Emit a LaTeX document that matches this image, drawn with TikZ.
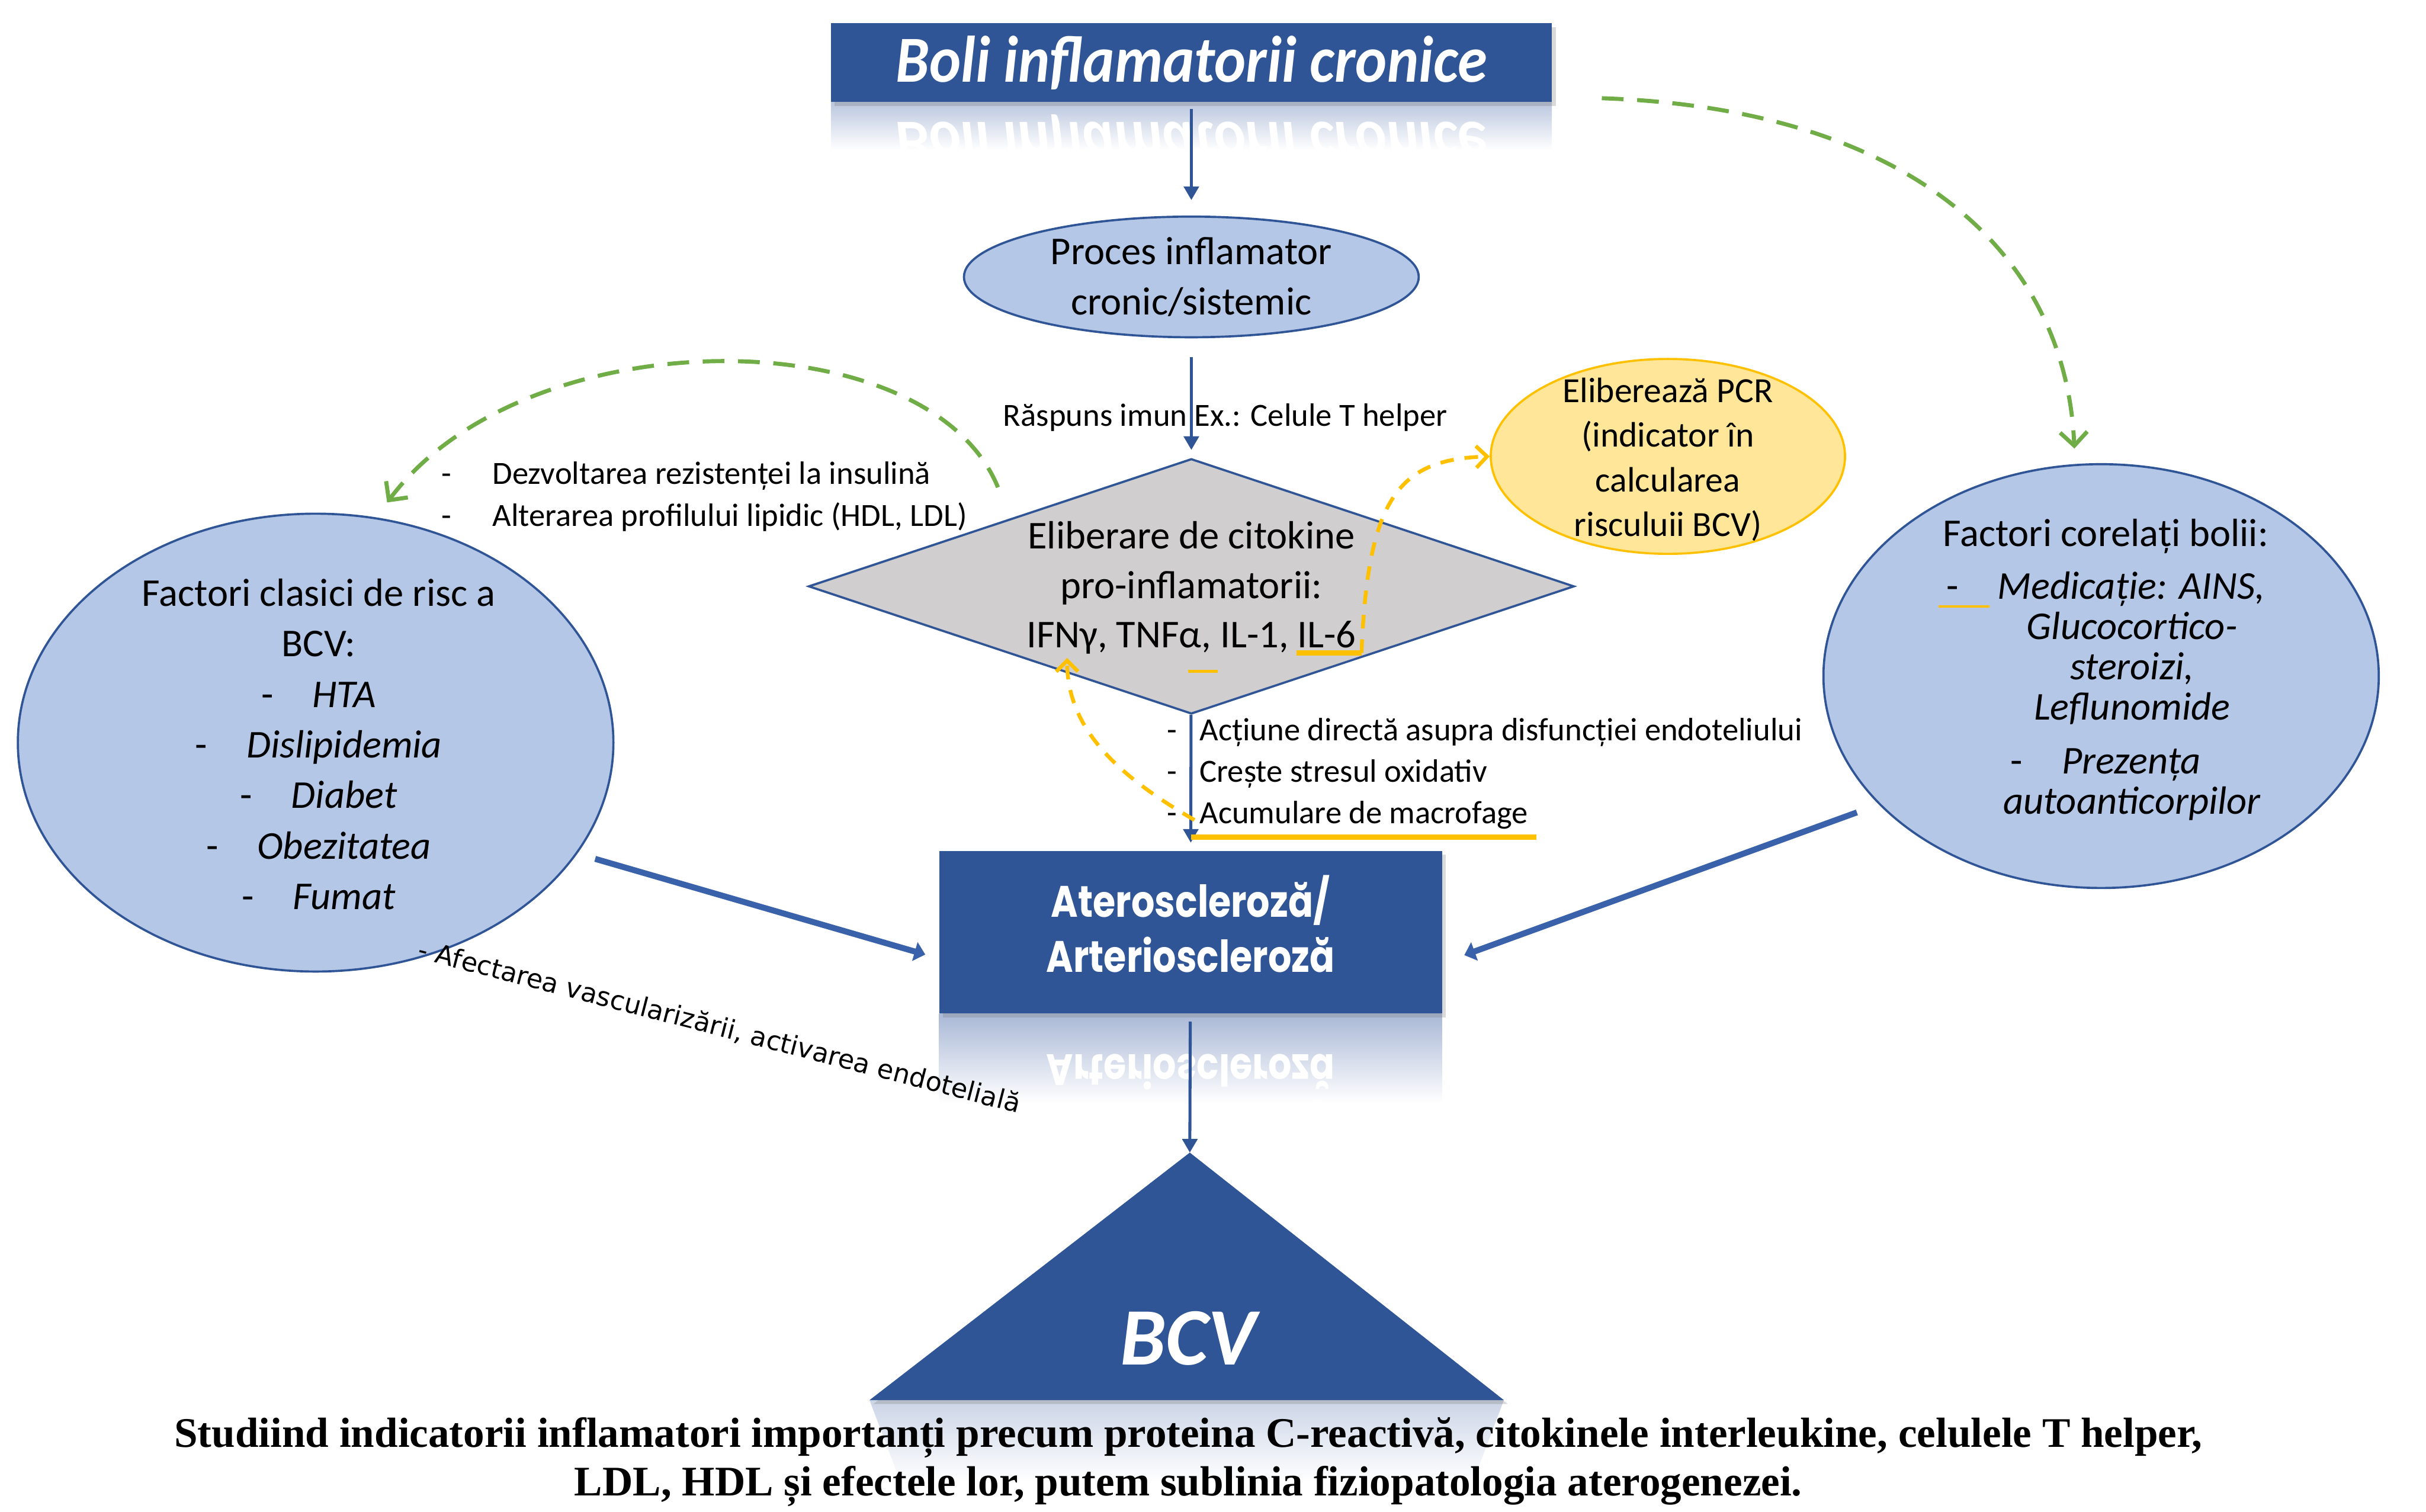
\documentclass[tikz,border=0pt]{standalone}
\usepackage{fontspec}
\setmainfont{Carlito}
\newfontfamily\popfont{Poppins}
\newfontfamily\capfont{Liberation Serif}
\newfontfamily\djfont{DejaVu Sans}
\usetikzlibrary{shapes.geometric,arrows.meta,shadows}

\definecolor{boxblue}{HTML}{2F5597}
\definecolor{softblue}{HTML}{B4C7E7}
\definecolor{rimblue}{HTML}{2F5597}
\definecolor{diagray}{HTML}{D0CECE}
\definecolor{pcrfill}{HTML}{FFE699}
\definecolor{pcrgold}{HTML}{FFC000}
\definecolor{leafgreen}{HTML}{70AD47}
\definecolor{mirrorblue}{HTML}{A9B8D6}
\definecolor{feedblue}{HTML}{3A62AA}

\tikzset{
  darkbox/.style={fill=boxblue, text=white, inner sep=0pt,
    drop shadow={opacity=0.3, shadow xshift=0.5mm, shadow yshift=-0.5mm}},
  blob/.style={ellipse, draw=rimblue, fill=softblue, line width=0.8pt, inner sep=0pt},
  flow/.style={draw=boxblue, line width=1.1pt, -{Triangle[length=5pt,width=5.5pt]}},
  feed/.style={draw=feedblue, line width=2.2pt, -{Triangle[length=4pt,width=7pt]}},
  greenloop/.style={draw=leafgreen, line width=1.5pt, dash pattern=on 8pt off 5pt,
    -{Straight Barb[length=5pt,width=10pt]}},
  goldloop/.style={draw=pcrgold, line width=1.4pt, dash pattern=on 5pt off 4pt,
    -{Straight Barb[length=4pt,width=8pt]}},
  bigtxt/.style={font=\fontsize{14.5}{18.6}\selectfont, align=center, inner sep=0pt},
  smalltxt/.style={font=\fontsize{11.9}{15.3}\selectfont, align=left, inner sep=0pt},
}

\begin{document}
\begin{tikzpicture}[x=0.02cm, y=-0.02cm]
\useasboundingbox (0,0) rectangle (1568,977);

% reflections under the dark boxes
\begin{scope}
  \clip (537,66) rectangle (1003,97);
  \shade[top color=mirrorblue!80, bottom color=white] (537,66) rectangle (1003,97);
  \node[text=white, font=\fontsize{22}{26}\selectfont\bfseries\itshape] (titlemirror) at (770,91.5)
    {\scalebox{1}[-1.1]{Boli inflamatorii cronice}};
\end{scope}
\begin{scope}
  \clip (607,655) rectangle (932,713);
  \shade[top color=mirrorblue, bottom color=white] (607,655) rectangle (932,713);
  \node[text=white, align=center, font=\popfont\bfseries\fontsize{13.5}{17}\selectfont] (ateromirror) at (769.5,707.5)
    {\scalebox{1}[-1.2]{\begin{tabular}{c}Ateroscleroză/\\Arterioscleroză\end{tabular}}};
\end{scope}
\shade[top color=mirrorblue!60, bottom color=white] (562,905) -- (972,905) -- (952,958) -- (582,958) -- cycle;

% main boxes
\node[darkbox, minimum width=9.32cm, minimum height=1.02cm,
  font=\fontsize{22}{26}\selectfont\bfseries\itshape] (title) at (770,40.5)
  {\scalebox{1}[1.1]{Boli inflamatorii cronice}};
\node[blob, minimum width=5.88cm, minimum height=1.56cm] (proces) at (770,179) {};
\node[bigtxt] (procestxt) at (770,179) {Proces inflamator\\cronic/sistemic};

\node[diamond, draw=rimblue, fill=diagray, line width=0.8pt, inner sep=0pt,
  minimum width=9.9cm, minimum height=3.3cm] (cyto) at (770,379) {};
\node[bigtxt, font=\fontsize{14.5}{18.2}\selectfont] (cytotxt) at (770,380)
  {Eliberare de citokine\\pro-inflamatorii:\\IFNγ, TNFα, IL-1, IL-6};

\node[ellipse, draw=pcrgold, fill=pcrfill, line width=0.8pt, inner sep=0pt,
  minimum width=4.58cm, minimum height=2.52cm] (pcr) at (1078,295) {};
\node[bigtxt, font=\fontsize{13}{16.4}\selectfont] (pcrtxt) at (1078,297)
  {Eliberează PCR\\(indicator în\\calcularea\\risculuii BCV)};

\node[blob, minimum width=7.7cm, minimum height=5.92cm] (lfac) at (204,480) {};
\node[bigtxt] (lfactxt) at (206,481)
  {Factori clasici de risc a\\BCV:\\
   \makebox[0.66cm][l]{-}\textit{HTA}\\
   \makebox[0.66cm][l]{-}\textit{Dislipidemia}\\
   \makebox[0.66cm][l]{-}\textit{Diabet}\\
   \makebox[0.66cm][l]{-}\textit{Obezitatea}\\
   \makebox[0.66cm][l]{-}\textit{Fumat}};

\node[blob, minimum width=7.18cm, minimum height=5.48cm] (rfac) at (1358,437) {};
\node[bigtxt, font=\fontsize{14.5}{14.8}\selectfont] (rfactxt) at (1361,433)
  {Factori corelați bolii:\\[0.16cm]
   \makebox[0.66cm][l]{-}\textit{Medicație: AINS,}\\
   \hspace*{0.68cm}\textit{Glucocortico-}\\
   \hspace*{0.68cm}\textit{steroizi,}\\
   \hspace*{0.68cm}\textit{Leflunomide}\\[0.18cm]
   \makebox[0.66cm][l]{-}\textit{Prezența}\\
   \hspace*{0.68cm}\textit{autoanticorpilor}};

\node[darkbox, minimum width=6.5cm, minimum height=2.1cm, align=center,
  font=\popfont\bfseries\fontsize{13.5}{17}\selectfont] (atero) at (769.5,602.5)
  {\scalebox{1}[1.2]{\begin{tabular}{c}Ateroscleroză/\\Arterioscleroză\end{tabular}}};

\coordinate (apex) at (769,745);
\fill[boxblue, drop shadow={opacity=0.3, shadow xshift=0.5mm, shadow yshift=-0.5mm}]
  (apex) -- (972,905) -- (562,905) -- cycle;
\node[text=white, font=\fontsize{30}{30}\selectfont\bfseries\itshape] (bcv) at (768,865) {BCV};

% labels
\node[smalltxt] (imun) at (792,270) {Răspuns imun Ex.: Celule T helper};
\node[smalltxt, anchor=west] (lipid) at (285,321)
  {\makebox[0.66cm][l]{-}Dezvoltarea rezistenței la insulină\\
   \makebox[0.66cm][l]{-}Alterarea profilului lipidic (HDL, LDL)};
\node[smalltxt, anchor=west] (effects) at (754,500)
  {\makebox[0.42cm][l]{-}Acțiune directă asupra disfuncției endoteliului\\
   \makebox[0.42cm][l]{-}Crește stresul oxidativ\\
   \makebox[0.42cm][l]{-}Acumulare de macrofage};
\node[font=\djfont\fontsize{9.7}{11}\selectfont, rotate=-14.5, inner sep=0pt] (vasc) at (465,664)
  {- Afectarea vascularizării, activarea endotelială};
\node[font=\capfont\bfseries\fontsize{15.5}{17.8}\selectfont, align=center] (caption) at (768,945)
  {Studiind indicatorii inflamatori importanți precum proteina C-reactivă, citokinele interleukine, celulele T helper,\\
   LDL, HDL și efectele lor, putem sublinia fiziopatologia aterogenezei.};

% main flow
\draw[flow, shorten <=0.08cm, shorten >=0.2cm] (title) -- (proces);
\draw[flow, shorten <=0.24cm, shorten >=0.1cm] (proces) -- (cyto);
\draw[flow, shorten >=0.1cm] (cyto) -- (atero);
\draw[flow, shorten <=0.1cm] (atero) -- (apex);
\draw[feed, shorten <=0.24cm, shorten >=0.18cm] (lfac.-23) -- ([yshift=-0.34cm]atero.west);
\draw[feed, shorten <=0.3cm, shorten >=0.3cm] (rfac.210) -- ([yshift=-0.4cm]atero.east);

% green feedback loops
\coordinate (gleft) at (645,315);
\draw[greenloop, shorten >=0.24cm] (gleft) .. controls (600,205) and (340,205) .. (lfac.75);
\draw[greenloop, shorten >=0.2cm] ([xshift=0.64cm, yshift=-0.46cm]title.east)
  .. controls (1230,70) and (1335,160) .. (rfac.97);

% gold marks and loops
\coordinate (il6) at (880,422);
\coordinate (macro) at (772,530);
\draw[pcrgold, line width=2pt] (838,422) -- (il6);
\draw[goldloop] (il6) .. controls (884,320) and (905,297) .. (pcr.west);
\draw[goldloop] (macro) .. controls (720,500) and (690,470) .. ([yshift=0.2cm]cyto.215);
\draw[pcrgold, line width=2pt] (770,541) -- (993,541);
\draw[pcrgold, line width=1pt] (768,434) -- (787,434);
\draw[pcrgold, line width=0.8pt] (1253,392) -- (1286,392);
\end{tikzpicture}
\end{document}
